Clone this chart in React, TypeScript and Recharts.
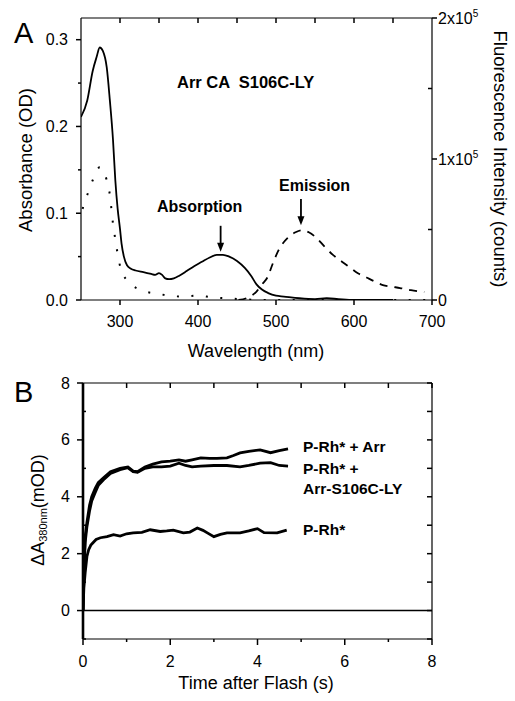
import React from 'react';
import { LineChart, Line, XAxis, YAxis, ReferenceLine } from 'recharts';

const FONT = '"Liberation Sans", Arial, Helvetica, sans-serif';

// ---- Panel A: spectra ----
const absNm = [250, 258, 265, 270, 274, 278, 283, 287, 291, 294, 297, 300, 302, 305, 309, 314, 320, 330, 340, 345, 350, 354, 358, 363, 369, 376, 385, 395, 405, 415, 424, 432, 440, 450, 460, 468, 475, 482, 490, 500, 510, 530, 550, 565, 580, 600, 650];
const absOD = [0.211, 0.23, 0.264, 0.28, 0.291, 0.287, 0.268, 0.23, 0.185, 0.138, 0.105, 0.082, 0.065, 0.05, 0.04, 0.036, 0.034, 0.032, 0.03, 0.029, 0.031, 0.029, 0.025, 0.024, 0.025, 0.028, 0.033, 0.039, 0.044, 0.049, 0.052, 0.052, 0.05, 0.045, 0.037, 0.028, 0.018, 0.012, 0.008, 0.005, 0.004, 0.002, 0.001, 0.002, 0.001, 0.0, 0.0];

const dotNm = [252, 258, 265, 274, 283, 287, 289, 291, 294, 297, 301, 312, 332, 350, 362, 381, 400, 418, 437, 455, 480, 550, 620, 700];
const dotOD = [0.105, 0.121, 0.138, 0.153, 0.138, 0.121, 0.105, 0.088, 0.07, 0.053, 0.036, 0.02, 0.01, 0.007, 0.005, 0.004, 0.005, 0.003, 0.002, 0.001, 0.0, 0.0, 0.0, 0.0];

const emNm = [452, 465, 475, 482, 489, 496, 503, 515, 525, 533, 542, 552, 562, 573, 585, 595, 605, 616, 627, 637, 648, 659, 673, 690];
const emCounts = [0, 2000, 6000, 11000, 16000, 26000, 35000, 44000, 48000, 49500, 48000, 44000, 38000, 32000, 27000, 23000, 19000, 16000, 13000, 10600, 9500, 8500, 7000, 5700];

const odMajor = [0, 0.1, 0.2, 0.3];
const odMinor = [0.05, 0.15, 0.25];
const nmMajor = [300, 400, 500, 600, 700];
const nmTop = [300, 350, 400, 450, 500, 550, 600, 650];
const countMajor = [0, 100000, 200000];
const countMinor = [50000, 150000];

// ---- Panel B: kinetics ----
const arrTime = [0, 0.02, 0.05, 0.09, 0.15, 0.2, 0.28, 0.35, 0.47, 0.63, 0.85, 1.03, 1.15, 1.25, 1.42, 1.6, 1.8, 2.0, 2.2, 2.35, 2.5, 2.7, 2.9, 3.07, 3.3, 3.45, 3.6, 3.8, 4.06, 4.3, 4.5, 4.7];
const arrMOD = [0, 1.5, 2.6, 3.1, 3.7, 4.0, 4.3, 4.5, 4.67, 4.88, 5.0, 5.05, 4.9, 4.88, 5.05, 5.15, 5.23, 5.25, 5.3, 5.25, 5.3, 5.37, 5.35, 5.35, 5.37, 5.45, 5.54, 5.6, 5.65, 5.55, 5.62, 5.68];

const lyTime = [0, 0.02, 0.05, 0.09, 0.15, 0.2, 0.28, 0.35, 0.47, 0.63, 0.85, 1.03, 1.15, 1.25, 1.42, 1.6, 1.8, 2.0, 2.2, 2.35, 2.5, 2.7, 3.0, 3.3, 3.6, 3.8, 4.06, 4.3, 4.5, 4.7];
const lyMOD = [0, 1.3, 2.4, 2.95, 3.5, 3.85, 4.15, 4.4, 4.6, 4.82, 4.95, 5.02, 4.88, 4.86, 5.0, 5.05, 5.05, 5.08, 5.18, 5.1, 5.05, 5.08, 5.1, 5.1, 5.05, 5.1, 5.18, 5.2, 5.1, 5.08];

const rhTime = [0, 0.02, 0.05, 0.09, 0.13, 0.18, 0.24, 0.3, 0.4, 0.55, 0.7, 0.85, 1.0, 1.15, 1.35, 1.54, 1.77, 1.92, 2.07, 2.3, 2.45, 2.62, 2.75, 2.85, 3.0, 3.15, 3.3, 3.6, 3.8, 4.0, 4.15, 4.45, 4.67];
const rhMOD = [0, 0.8, 1.33, 1.9, 2.14, 2.3, 2.4, 2.5, 2.56, 2.6, 2.67, 2.62, 2.7, 2.73, 2.75, 2.84, 2.78, 2.8, 2.83, 2.73, 2.76, 2.9, 2.82, 2.73, 2.6, 2.68, 2.73, 2.73, 2.8, 2.88, 2.74, 2.73, 2.83];

const timeMajor = [0, 2, 4, 6, 8];
const timeMinor = [1, 3, 5, 7];
const modMajor = [0, 2, 4, 6, 8];
const modMinor = [-1, 1, 3, 5, 7];

const zip = (xs: number[], ys: number[]) => xs.map((x, i) => ({ x, y: ys[i] }));

const axisLine = { stroke: '#000', strokeWidth: 1.2 };
const labelStyle = { fontSize: 16, fontFamily: FONT, fill: '#000', stroke: 'none' };

// tick labels only; tick marks are drawn with ReferenceLine shapes below
const leftLabel = (fmt: (v: number) => string) => (p: any) => (
  <text x={Number(p.x) - 13} y={Number(p.y) + 5.5} textAnchor="end" {...labelStyle}>
    {fmt(Number(p.payload.value))}
  </text>
);
const bottomLabel = (gap: number) => (p: any) => (
  <text x={Number(p.x)} y={Number(p.y) + gap} textAnchor="middle" {...labelStyle}>
    {String(p.payload.value)}
  </text>
);
const countLabel = (p: any) => {
  const v = Number(p.payload.value);
  return (
    <text x={Number(p.x) + 6} y={Number(p.y) + 5.5} textAnchor="start" {...labelStyle}>
      {v === 0 ? '0' : `${v / 100000}x10`}
      {v !== 0 && <tspan dy={-7} fontSize={10}>5</tspan>}
    </text>
  );
};

// short tick marks at the ends of a reference line (lengths: + outward, - inward)
type TickLen = { left?: number; right?: number; top?: number; bottom?: number };
const TW = 1.5;
const hTick = (t: TickLen) => (p: any) => {
  const xa = Math.min(p.x1, p.x2);
  const xb = Math.max(p.x1, p.x2);
  const y = p.y1;
  return (
    <g>
      {t.left ? <line x1={xa} y1={y} x2={xa - t.left} y2={y} stroke="#000" strokeWidth={TW} /> : null}
      {t.right ? <line x1={xb} y1={y} x2={xb + t.right} y2={y} stroke="#000" strokeWidth={TW} /> : null}
    </g>
  );
};
const vTick = (t: TickLen) => (p: any) => {
  const ya = Math.min(p.y1, p.y2);
  const yb = Math.max(p.y1, p.y2);
  const x = p.x1;
  return (
    <g>
      {t.top ? <line x1={x} y1={ya} x2={x} y2={ya - t.top} stroke="#000" strokeWidth={TW} /> : null}
      {t.bottom ? <line x1={x} y1={yb} x2={x} y2={yb + t.bottom} stroke="#000" strokeWidth={TW} /> : null}
    </g>
  );
};

const Arrow = (props: any) => {
  const { x1, y1, x2, y2 } = props;
  return (
    <g>
      <line x1={x1} y1={y1} x2={x2} y2={y2 - 8} stroke="#000" strokeWidth={1.8} />
      <path d={`M${x2 - 3.5},${y2 - 9} L${x2 + 3.5},${y2 - 9} L${x2},${y2} Z`} fill="#000" />
    </g>
  );
};

const uniq = (a: number[]) => Array.from(new Set(a)).sort((p, q) => p - q);

function SpectraChart() {
  const nmAll = uniq([...nmMajor, ...nmTop]);
  return (
    <LineChart width={515} height={345} margin={{ top: 8, right: 23, bottom: 15, left: 21 }}>
      <XAxis
        xAxisId="b"
        type="number"
        dataKey="x"
        domain={[250, 700]}
        allowDataOverflow
        ticks={nmMajor}
        interval={0}
        height={30}
        axisLine={axisLine}
        tickLine={false}
        tickSize={0}
        tickMargin={0}
        tick={bottomLabel(27)}
      />
      <XAxis xAxisId="t" orientation="top" type="number" domain={[250, 700]} allowDataOverflow height={10} axisLine={axisLine} tickLine={false} tick={false} />
      <YAxis
        yAxisId="od"
        type="number"
        domain={[0, 0.325]}
        allowDataOverflow
        ticks={odMajor}
        interval={0}
        width={60}
        axisLine={axisLine}
        tickLine={false}
        tickSize={0}
        tickMargin={0}
        tick={leftLabel((v) => v.toFixed(1))}
      />
      <YAxis
        yAxisId="cnt"
        orientation="right"
        type="number"
        domain={[0, 200000]}
        allowDataOverflow
        ticks={countMajor}
        interval={0}
        width={60}
        axisLine={axisLine}
        tickLine={false}
        tickSize={0}
        tickMargin={0}
        tick={countLabel}
      />
      {odMajor.map((v) => (
        <ReferenceLine key={`om${v}`} xAxisId="b" yAxisId="od" y={v} ifOverflow="visible" shape={hTick({ left: 5 })} />
      ))}
      {odMinor.map((v) => (
        <ReferenceLine key={`on${v}`} xAxisId="b" yAxisId="od" y={v} ifOverflow="visible" shape={hTick({ left: 3 })} />
      ))}
      {countMajor.map((v) => (
        <ReferenceLine key={`cm${v}`} xAxisId="b" yAxisId="cnt" y={v} ifOverflow="visible" shape={hTick({ right: 5 })} />
      ))}
      {countMinor.map((v) => (
        <ReferenceLine key={`cn${v}`} xAxisId="b" yAxisId="cnt" y={v} ifOverflow="visible" shape={hTick({ right: -4 })} />
      ))}
      {nmAll.map((v) => (
        <ReferenceLine
          key={`nm${v}`}
          xAxisId="b"
          yAxisId="od"
          x={v}
          ifOverflow="visible"
          shape={vTick({ bottom: nmMajor.includes(v) ? 5 : 0, top: nmTop.includes(v) ? -5 : 0 })}
        />
      ))}
      <Line
        xAxisId="b"
        yAxisId="od"
        data={zip(dotNm, dotOD)}
        dataKey="y"
        type="monotone"
        stroke="#000"
        strokeWidth={2}
        strokeDasharray="2 12.5"
        dot={false}
        isAnimationActive={false}
      />
      <Line
        xAxisId="b"
        yAxisId="cnt"
        data={zip(emNm, emCounts)}
        dataKey="y"
        type="monotone"
        stroke="#000"
        strokeWidth={1.8}
        strokeDasharray="8 7"
        dot={false}
        isAnimationActive={false}
      />
      <Line
        xAxisId="b"
        yAxisId="od"
        data={zip(absNm, absOD)}
        dataKey="y"
        type="monotone"
        stroke="#000"
        strokeWidth={1.8}
        dot={false}
        isAnimationActive={false}
      />
      <ReferenceLine xAxisId="b" yAxisId="od" segment={[{ x: 429, y: 0.0855 }, { x: 429, y: 0.0557 }]} shape={Arrow} />
      <ReferenceLine xAxisId="b" yAxisId="cnt" segment={[{ x: 532, y: 71600 }, { x: 532, y: 53000 }]} shape={Arrow} />
    </LineChart>
  );
}

function KineticsChart() {
  return (
    <LineChart width={515} height={356} margin={{ top: 28, right: 73, bottom: 32, left: 23 }}>
      <XAxis
        xAxisId="b"
        type="number"
        dataKey="x"
        domain={[0, 8]}
        allowDataOverflow
        ticks={timeMajor}
        interval={0}
        height={30}
        axisLine={axisLine}
        tickLine={false}
        tickSize={0}
        tickMargin={0}
        tick={bottomLabel(28)}
      />
      <XAxis xAxisId="t" orientation="top" type="number" domain={[0, 8]} allowDataOverflow height={10} axisLine={axisLine} tickLine={false} tick={false} />
      <YAxis
        yAxisId="l"
        type="number"
        domain={[-1, 8]}
        allowDataOverflow
        ticks={modMajor}
        interval={0}
        width={60}
        axisLine={{ stroke: '#000', strokeWidth: 2.6 }}
        tickLine={false}
        tickSize={0}
        tickMargin={0}
        tick={leftLabel((v) => String(v))}
      />
      <YAxis yAxisId="r" orientation="right" type="number" domain={[-1, 8]} allowDataOverflow width={10} axisLine={axisLine} tickLine={false} tick={false} />
      {modMajor.map((v) => (
        <ReferenceLine key={`mm${v}`} xAxisId="b" yAxisId="l" y={v} ifOverflow="visible" shape={hTick({ left: 6, right: -5 })} />
      ))}
      {modMinor.map((v) => (
        <ReferenceLine key={`mn${v}`} xAxisId="b" yAxisId="l" y={v} ifOverflow="visible" shape={hTick({ left: -3, right: -5 })} />
      ))}
      {timeMajor.map((v) => (
        <ReferenceLine key={`tm${v}`} xAxisId="b" yAxisId="l" x={v} ifOverflow="visible" shape={vTick({ bottom: 6, top: -5 })} />
      ))}
      {timeMinor.map((v) => (
        <ReferenceLine key={`tn${v}`} xAxisId="b" yAxisId="l" x={v} ifOverflow="visible" shape={vTick({ bottom: 3, top: -5 })} />
      ))}
      <ReferenceLine xAxisId="b" yAxisId="l" y={0} stroke="#000" strokeWidth={1.5} />
      <Line
        xAxisId="b"
        yAxisId="l"
        data={zip(rhTime, rhMOD)}
        dataKey="y"
        type="linear"
        stroke="#000"
        strokeWidth={2.8}
        dot={false}
        isAnimationActive={false}
      />
      <Line
        xAxisId="b"
        yAxisId="l"
        data={zip(lyTime, lyMOD)}
        dataKey="y"
        type="linear"
        stroke="#000"
        strokeWidth={2.8}
        dot={false}
        isAnimationActive={false}
      />
      <Line
        xAxisId="b"
        yAxisId="l"
        data={zip(arrTime, arrMOD)}
        dataKey="y"
        type="linear"
        stroke="#000"
        strokeWidth={2.8}
        dot={false}
        isAnimationActive={false}
      />
    </LineChart>
  );
}

export default function App() {
  const bold = { fontFamily: FONT, fontWeight: 700, fill: '#000' } as const;
  const plain = { fontFamily: FONT, fill: '#000' } as const;
  return (
    <div style={{ position: 'absolute', left: 0, top: 0, width: 515, height: 701, background: '#fff' }}>
      <div style={{ position: 'absolute', left: 0, top: 0 }}>
        <SpectraChart />
      </div>
      <div style={{ position: 'absolute', left: 0, top: 345 }}>
        <KineticsChart />
      </div>
      <svg width={515} height={701} style={{ position: 'absolute', left: 0, top: 0, pointerEvents: 'none' }}>
        <text x={14} y={43} fontSize={29} {...plain}>A</text>
        <text x={14} y={402} fontSize={29} {...plain}>B</text>

        <text x={177} y={88} fontSize={16.5} style={{ whiteSpace: 'pre' }} {...bold}>Arr CA  S106C-LY</text>
        <text x={157} y={212} fontSize={16} {...bold}>Absorption</text>
        <text x={279} y={191} fontSize={16} {...bold}>Emission</text>

        <text x={32} y={160} fontSize={18.5} textAnchor="middle" transform="rotate(-90 32 160)" {...plain}>
          Absorbance (OD)
        </text>
        <text x={494} y={159} fontSize={18.5} textAnchor="middle" transform="rotate(90 494 159)" {...plain}>
          Fluorescence Intensity (counts)
        </text>
        <text x={256} y={357} fontSize={18} textAnchor="middle" {...plain}>Wavelength (nm)</text>

        <text x={303} y={452} fontSize={15.5} {...bold}>P-Rh* + Arr</text>
        <text x={303} y={474} fontSize={15.5} {...bold}>P-Rh* +</text>
        <text x={303} y={494} fontSize={15.5} {...bold}>Arr-S106C-LY</text>
        <text x={303} y={535} fontSize={15.5} {...bold}>P-Rh*</text>

        <text x={44} y={510} fontSize={18} textAnchor="middle" transform="rotate(-90 44 510)" {...plain}>
          ΔA<tspan fontSize={11} dy={3}>380nm</tspan>
          <tspan dy={-3}>(mOD)</tspan>
        </text>
        <text x={256} y={689} fontSize={18} textAnchor="middle" {...plain}>Time after Flash (s)</text>
      </svg>
    </div>
  );
}
